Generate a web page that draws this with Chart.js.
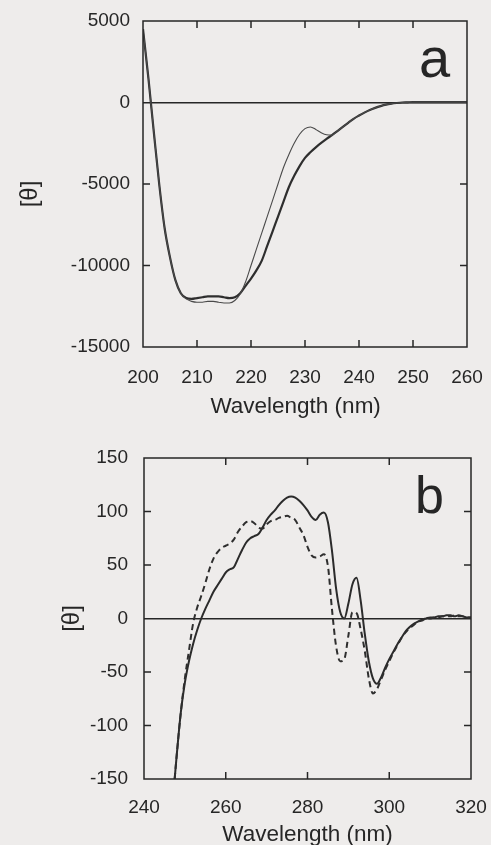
<!DOCTYPE html>
<html><head><meta charset="utf-8">
<script src="https://cdn.jsdelivr.net/npm/chart.js@4.4.1/dist/chart.umd.min.js"></script>
<style>
html,body{margin:0;padding:0;background:#eeeceb;width:491px;height:845px;overflow:hidden;}
#ca{position:absolute;left:0;top:0;}
#cb{position:absolute;left:0;top:420px;}
</style></head><body>
<canvas id="ca" width="491" height="420"></canvas>
<canvas id="cb" width="491" height="430"></canvas>
<script>
// ---------- Panel a (far-UV CD) ----------
const wavelengthA = [200,201,202,203,204,205,206,207,208,209,210,211,212,213,214,215,216,217,218,219,220,221,222,223,224,225,226,227,228,229,230,231,232,233,234,235,236,237,238,239,240,241,242,243,244,245,246,247,248,249,250,251,252,253,254,255,256,257,258,259,260];
const thetaA_thick = [4500,1500,-1800,-5000,-7700,-9500,-10900,-11700,-12000,-12050,-12000,-11950,-11900,-11900,-11900,-11950,-12000,-11950,-11700,-11250,-10800,-10300,-9700,-8800,-7900,-7000,-6100,-5200,-4500,-3900,-3400,-3050,-2750,-2480,-2230,-2000,-1750,-1500,-1250,-1000,-800,-620,-460,-330,-220,-130,-70,-30,0,10,20,20,20,20,20,20,20,20,20,20,20];
const thetaA_thin = [4500,1500,-1800,-5000,-7700,-9500,-10900,-11700,-12050,-12200,-12250,-12250,-12200,-12200,-12250,-12300,-12300,-12150,-11750,-11000,-10000,-9000,-8000,-7000,-6000,-5000,-4000,-3200,-2500,-1950,-1600,-1500,-1650,-1850,-1980,-2000,-1750,-1500,-1250,-1000,-800,-620,-460,-330,-220,-130,-70,-30,0,10,20,20,20,20,20,20,20,20,20,20,20];
const xTicksA = [200,210,220,230,240,250,260];
const yTicksA = [-15000,-10000,-5000,0,5000];

// ---------- Panel b (near-UV CD) ----------
const wavelengthB = [247.5,248,249,250,251,252,253,254,255,256,257,258,259,260,261,262,263,264,265,266,267,268,269,270,271,272,273,274,275,276,277,278,279,280,281,282,283,284,285,286,287,288,289,290,291,292,293,294,295,296,297,298,299,300,301,302,303,304,305,306,307,308,309,310,311,312,313,314,315,316,317,318,319,320];
const thetaB_solid = [-150,-128,-88,-60,-40,-24,-11,0,9,17,25,31,37,43,46,48,56,64,71,75,77,79,85,92,97,101,106,110,113,114,113,110,106,101,95,92,97,99,90,63,28,6,0,14,32,38,17,-14,-40,-56,-61,-55,-46,-38,-31,-24,-18,-12,-8,-5,-3,-1,0,1,1,2,2,3,3,2,3,2,1,1];
const thetaB_dashed = [-150,-128,-88,-56,-30,-5,10,21,33,46,56,62,66,68,70,74,81,86,90,91,89,85,84,88,91,92,94,95,96,94,92,85,78,67,59,57,58,60,49,8,-26,-40,-38,-16,6,5,-10,-30,-56,-70,-66,-57,-48,-40,-32,-25,-18,-13,-9,-6,-3,-2,0,0,1,1,2,2,2,3,2,2,1,1];
const xTicksB = [240,260,280,300,320];
const yTicksB = [-150,-100,-50,0,50,100,150];

const INK = '#262626';
const FONT = '"Liberation Sans", Arial, sans-serif';
const NB = '\u00a0';

function pts(xs, ys){ return xs.map((x,i)=>({x:x, y:ys[i]})); }

const framePlugin = {
  id: 'frame',
  afterDraw(chart, args, opts){
    const {ctx, chartArea:a, scales:{x, y}} = chart;
    ctx.save();
    ctx.strokeStyle = INK;
    ctx.lineWidth = 1.5;
    ctx.strokeRect(a.left, a.top, a.right - a.left, a.bottom - a.top);
    const L = 7;
    ctx.beginPath();
    x.ticks.forEach(t => {
      if (t.value <= x.min || t.value >= x.max) return;
      const p = x.getPixelForValue(t.value);
      ctx.moveTo(p, a.bottom); ctx.lineTo(p, a.bottom - L);
      ctx.moveTo(p, a.top); ctx.lineTo(p, a.top + L);
    });
    y.ticks.forEach(t => {
      if (t.value <= y.min || t.value >= y.max || t.value === 0) return;
      const p = y.getPixelForValue(t.value);
      ctx.moveTo(a.left, p); ctx.lineTo(a.left + L, p);
      ctx.moveTo(a.right, p); ctx.lineTo(a.right - L, p);
    });
    ctx.stroke();
    ctx.fillStyle = INK;
    ctx.font = opts.size + 'px ' + FONT;
    ctx.textAlign = 'left';
    ctx.textBaseline = 'alphabetic';
    ctx.fillText(opts.letter, a.right - opts.dx, a.top + opts.dy);
    ctx.restore();
  }
};

function makeChart(id, cfg){
  return new Chart(document.getElementById(id), {
    type: 'line',
    data: { datasets: cfg.datasets },
    options: {
      responsive: false,
      animation: false,
      events: [],
      layout: { padding: cfg.padding },
      elements: { point: { radius: 0 }, line: { cubicInterpolationMode: 'monotone' } },
      plugins: { legend: { display: false }, tooltip: { enabled: false }, frame: cfg.frame },
      scales: {
        x: {
          type: 'linear', min: cfg.xTicks[0], max: cfg.xTicks[cfg.xTicks.length-1],
          afterBuildTicks: s => { s.ticks = cfg.xTicks.map(v => ({value: v})); },
          afterFit: s => { s.height = cfg.xH; s.paddingLeft = 0; s.paddingRight = 0; },
          grid: { display: false, drawTicks: false },
          border: { display: false },
          ticks: { color: INK, font: { family: FONT, size: 19 }, padding: cfg.xPad, maxRotation: 0, callback: v => String(v) },
          title: { display: true, text: cfg.xTitle, color: INK, font: { family: FONT, size: 22.5 }, padding: { top: 0, bottom: cfg.xTitlePad } }
        },
        y: {
          type: 'linear', min: cfg.yTicks[0], max: cfg.yTicks[cfg.yTicks.length-1],
          afterBuildTicks: s => { s.ticks = cfg.yTicks.map(v => ({value: v})); },
          afterFit: s => { s.width = cfg.yW; s.paddingTop = 0; s.paddingBottom = 0; },
          grid: { drawTicks: false, lineWidth: 1.5, color: c => (c.tick && c.tick.value === 0) ? INK : 'rgba(0,0,0,0)' },
          border: { display: false },
          ticks: { color: INK, font: { family: FONT, size: 19 }, padding: cfg.yPad, callback: v => String(v) },
          title: { display: true, text: cfg.yTitle, color: INK, font: { family: FONT, size: 24 }, padding: { top: cfg.yTitlePad, bottom: 0 } }
        }
      }
    },
    plugins: [framePlugin]
  });
}

makeChart('ca', {
  datasets: [
    { data: pts(wavelengthA, thetaA_thin), borderColor: '#4a4a4a', borderWidth: 1.1 },
    { data: pts(wavelengthA, thetaA_thick), borderColor: '#2e2e2e', borderWidth: 2.2 }
  ],
  padding: { left: 0, right: 24, top: 21, bottom: 0 },
  xTicks: xTicksA, yTicks: yTicksA,
  xTitle: 'Wavelength (nm)' + NB + NB + NB, yTitle: '[θ]' + NB + NB + NB,
  xH: 73, yW: 143, xPad: 19, yPad: 13, xTitlePad: 0, yTitlePad: 16,
  frame: { letter: 'a', size: 56, dx: 48, dy: 56 }
});

makeChart('cb', {
  datasets: [
    { data: pts(wavelengthB, thetaB_dashed), borderColor: '#2e2e2e', borderWidth: 2, borderDash: [6, 4] },
    { data: pts(wavelengthB, thetaB_solid), borderColor: '#2b2b2b', borderWidth: 2 }
  ],
  padding: { left: 0, right: 20, top: 38, bottom: 0 },
  xTicks: xTicksB, yTicks: yTicksB,
  xTitle: 'Wavelength (nm)', yTitle: '[θ]',
  xH: 71, yW: 144, xPad: 17, yPad: 16, xTitlePad: 2, yTitlePad: 58,
  frame: { letter: 'b', size: 52, dx: 56, dy: 55 }
});
</script>
</body></html>
